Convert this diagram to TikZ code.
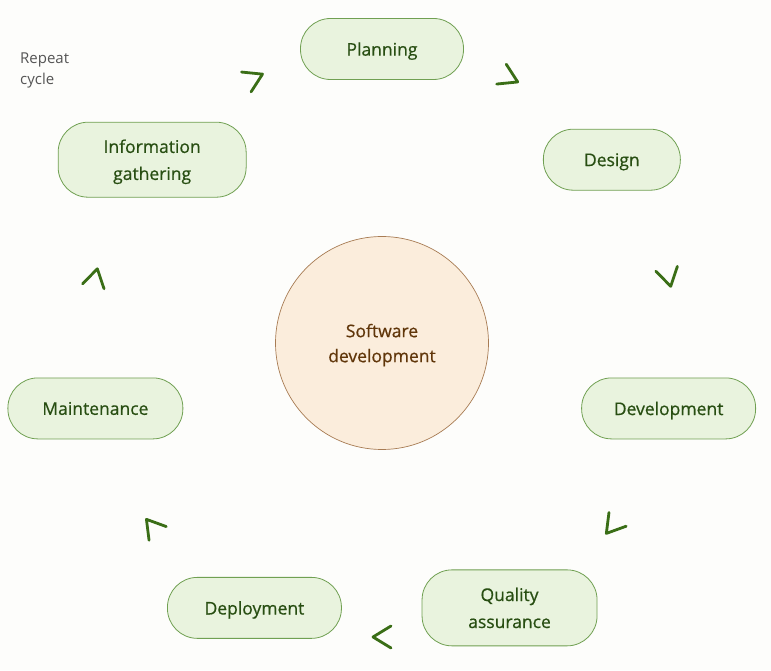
\documentclass[tikz,border=0pt]{standalone}
\usepackage{fontspec}
\setmainfont{Open Sans}
\newfontfamily\phasefont{Open Sans}[FakeBold=0.6]
\usetikzlibrary{calc, decorations.markings}
\definecolor{paper}{RGB}{253,253,251}
\definecolor{leaf}{RGB}{233,243,222}
\definecolor{leafline}{RGB}{112,160,82}
\definecolor{leafink}{RGB}{40,78,18}
\definecolor{arrowgreen}{RGB}{58,110,22}
\definecolor{sand}{RGB}{251,237,220}
\definecolor{sandline}{RGB}{168,124,84}
\definecolor{sandink}{RGB}{96,54,10}
\definecolor{note}{RGB}{85,85,85}

\tikzset{
    phase/.style = {rectangle, rounded corners = 30pt, draw = leafline, fill = leaf, text = leafink, line width = 0.8pt, minimum height = 61pt, align = center, text depth = 0pt, font = \phasefont\fontsize{17.5}{27}\selectfont},
    chevron/.style = {decoration = {markings, mark = at position 0.5 with {\draw[arrowgreen, line width = 2.8pt, line cap = round, line join = round] (-9pt,11pt) -- (9pt,0pt) -- (-9pt,-11pt);}}, decorate}
}

\begin{document}
\begin{tikzpicture}[x = 1pt, y = 1pt]
    % Parametri
    \pgfmathsetmacro{\R}{294}
    \pgfmathsetmacro{\da}{360/7}
    \fill[paper] (0,0) rectangle (771,670);
    \useasboundingbox (0,0) rectangle (771,670);
    \coordinate (hub) at (382,327);
    % Centro
    \node[circle, minimum size = 213pt, draw = sandline, fill = sand, text = sandink, line width = 0.7pt, align = center, text depth = 0pt, font = \phasefont\fontsize{17.5}{25}\selectfont] (core) at (hub) {Software\\development};
    % Fasi
    \node[phase, minimum width = 163pt] (plan) at ($(hub)+(90:\R)$) {Planning};
    \node[phase, minimum width = 137pt] (des) at ($(hub)+({90-\da}:\R)$) {Design};
    \node[phase, minimum width = 174pt] (dev) at ($(hub)+({90-2*\da}:\R)$) {Development};
    \node[phase, minimum width = 175pt, minimum height = 76pt] (qa) at ($(hub)+({90-3*\da}:\R)$) {Quality\\assurance};
    \node[phase, minimum width = 174pt] (dep) at ($(hub)+({90-4*\da}:\R)$) {Deployment};
    \node[phase, minimum width = 175pt] (maint) at ($(hub)+({90-5*\da}:\R)$) {Maintenance};
    \node[phase, minimum width = 188pt, minimum height = 75pt] (info) at ($(hub)+({90-6*\da}:\R)$) {Information\\gathering};
    % Frecce
    \foreach \a/\b in {plan/des, des/dev, dev/qa, qa/dep, dep/maint, maint/info, info/plan} {
        \path[chevron] (\a.center) to[bend left = 25.7, looseness = 0.9] (\b.center);
    };
    \node[anchor = west, inner sep = 0pt, align = left, text = note, font = \fontsize{15}{21}\selectfont] (repeat) at (20,600) {Repeat\\cycle};
\end{tikzpicture}
\end{document}
